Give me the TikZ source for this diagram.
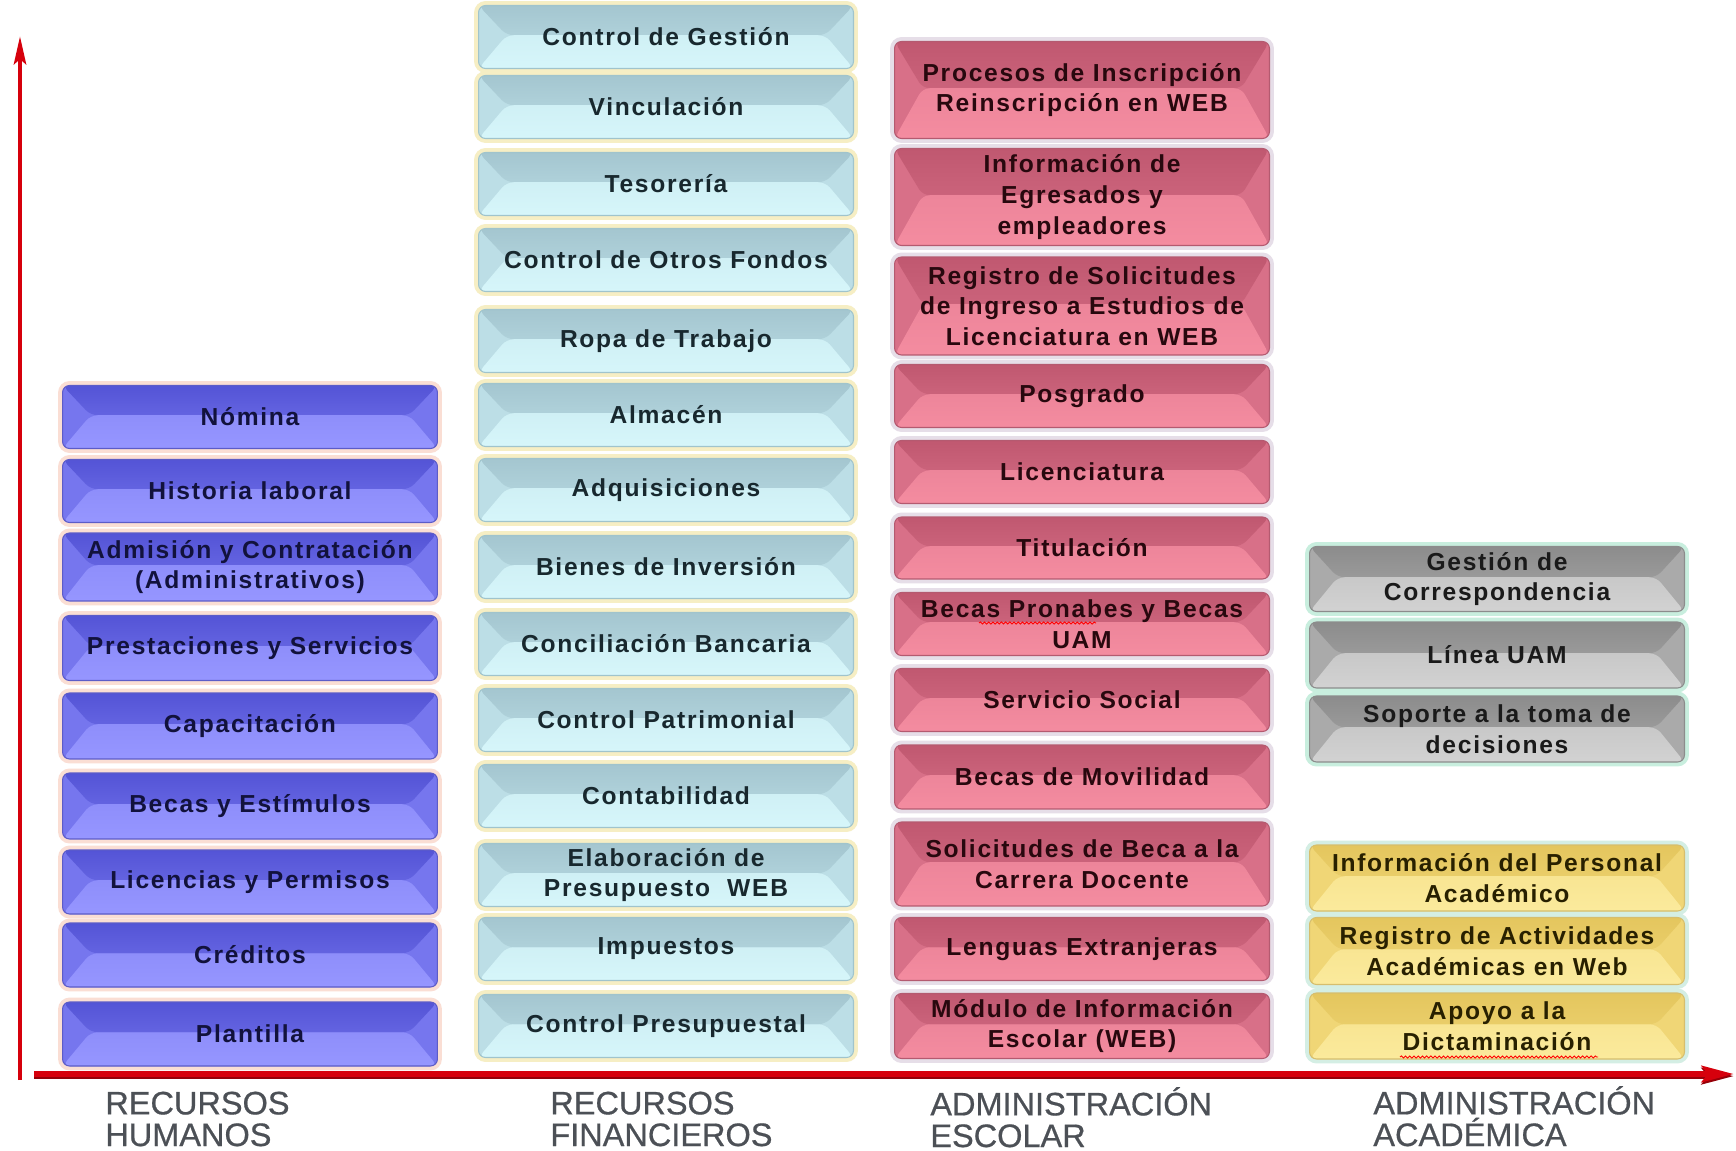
\documentclass[tikz,border=0pt]{standalone}
\usepackage{fontspec}
\setmainfont{Liberation Sans}
\newfontfamily\cajafont[LetterSpace=7]{Liberation Sans}
\newfontfamily\areafont[FakeBold=0.6]{Liberation Sans}
\usetikzlibrary{arrows.meta,decorations.pathmorphing}

\definecolor{rojo}{RGB}{214,0,12}
\definecolor{rojoosc}{RGB}{150,0,8}
\definecolor{gristxt}{RGB}{76,80,86}
\definecolor{rhglow}{RGB}{250,222,212}
\definecolor{rhedge}{RGB}{92,92,200}
\definecolor{rhtop}{RGB}{84,84,214}
\definecolor{rhside}{RGB}{118,118,238}
\definecolor{rhbot}{RGB}{150,150,255}
\definecolor{rhtext}{RGB}{18,18,60}
\definecolor{rfglow}{RGB}{246,238,196}
\definecolor{rfedge}{RGB}{160,196,204}
\definecolor{rftop}{RGB}{164,198,208}
\definecolor{rfside}{RGB}{188,222,230}
\definecolor{rfbot}{RGB}{214,246,250}
\definecolor{rftext}{RGB}{24,40,46}
\definecolor{aeglow}{RGB}{230,222,232}
\definecolor{aeedge}{RGB}{180,90,112}
\definecolor{aetop}{RGB}{192,88,112}
\definecolor{aeside}{RGB}{216,112,136}
\definecolor{aebot}{RGB}{244,140,160}
\definecolor{aetext}{RGB}{40,8,14}
\definecolor{grglow}{RGB}{200,238,222}
\definecolor{gredge}{RGB}{140,140,140}
\definecolor{grtop}{RGB}{140,140,140}
\definecolor{grside}{RGB}{170,170,170}
\definecolor{grbot}{RGB}{210,210,210}
\definecolor{grtext}{RGB}{26,26,26}
\definecolor{amglow}{RGB}{212,238,228}
\definecolor{amedge}{RGB}{214,190,110}
\definecolor{amtop}{RGB}{228,198,94}
\definecolor{amside}{RGB}{240,214,118}
\definecolor{ambot}{RGB}{251,234,156}
\definecolor{amtext}{RGB}{40,32,0}

\begin{document}
\begin{tikzpicture}[x=0.02cm,y=-0.02cm,
	boton/.style n args={6}{rounded corners=4pt, minimum width=7.5cm, minimum height=1.26cm, inner sep=0pt, align=center,
		font=\cajafont\bfseries\fontsize{14}{17.5}\selectfont, text=#6, fill=#4, draw=#2, line width=0.6pt,
		preaction={draw=#1, line width=5pt},
		path picture={
			\coordinate (pnw) at (path picture bounding box.north west);
			\coordinate (pse) at (path picture bounding box.south east);
			\coordinate (pw) at ([xshift=16pt,yshift=1pt]path picture bounding box.west);
			\coordinate (pe) at ([xshift=-16pt,yshift=1pt]path picture bounding box.east);
			\shade[top color=#3, bottom color=#3!55!#4] (pnw) -- (pnw-|pse) -- (pe) -- (pw) -- cycle;
			\shade[top color=#5!75!#4, bottom color=#5] (pnw|-pse) -- (pse) -- (pe) -- (pw) -- cycle;
		}},
	rh/.style={boton={rhglow}{rhedge}{rhtop}{rhside}{rhbot}{rhtext}},
	rf/.style={boton={rfglow}{rfedge}{rftop}{rfside}{rfbot}{rftext}},
	ae/.style={boton={aeglow}{aeedge}{aetop}{aeside}{aebot}{aetext}},
	gr/.style={boton={grglow}{gredge}{grtop}{grside}{grbot}{grtext}},
	am/.style={boton={amglow}{amedge}{amtop}{amside}{ambot}{amtext}},
	area/.style={anchor=base west, align=left, inner sep=0pt, text=gristxt, font=\areafont\fontsize{18.5}{18}\selectfont},
	ortografia/.style={red, line width=0.5pt, decorate, decoration={snake, amplitude=0.6pt, segment length=2.4pt}},
	eje/.style={rojo, line width=2.8pt}]
	\fill [white] (0,0) rectangle (1736,1151);
	\useasboundingbox (0,0) rectangle (1736,1151);
	\coordinate (origen) at (20,1080);
	\coordinate (ejey) at (20,36);
	\coordinate (inicio) at (34,1074);
	\coordinate (ejex) at (1734,1074);
	\draw [eje, -{Stealth[length=0.56cm, width=0.24cm, inset=0.1cm]}] (origen) -- (ejey);
	\draw [eje, line width=3.6pt, preaction={draw=rojoosc, line width=3.6pt, transform canvas={yshift=-1.2pt}}, -{Stealth[length=0.64cm, width=0.32cm, inset=0.12cm]}] (inicio) -- (ejex);
	\node [rh] (rh1) at (250,417) {Nómina};
	\node [rh] (rh2) at (250,491) {Historia laboral};
	\node [rh, minimum height=1.36cm] (rh3) at (250,567) {Admisión y Contratación\\(Administrativos)};
	\node [rh, minimum height=1.3cm] (rh4) at (250,648) {Prestaciones y Servicios};
	\node [rh, minimum height=1.32cm] (rh5) at (250,726) {Capacitación};
	\node [rh, minimum height=1.32cm] (rh6) at (250,806) {Becas y Estímulos};
	\node [rh, minimum height=1.28cm] (rh7) at (250,882) {Licencias y Permisos};
	\node [rh, minimum height=1.28cm] (rh8) at (250,955) {Créditos};
	\node [rh, minimum height=1.28cm] (rh9) at (250,1034) {Plantilla};
	\node [rf] (rf1) at (666,37) {Control de Gestión};
	\node [rf] (rf2) at (666,107) {Vinculación};
	\node [rf] (rf3) at (666,184) {Tesorería};
	\node [rf] (rf4) at (666,260) {Control de Otros Fondos};
	\node [rf] (rf5) at (666,341) {Ropa de Trabajo};
	\node [rf] (rf6) at (666,415) {Almacén};
	\node [rf] (rf7) at (666,490) {Adquisiciones};
	\node [rf] (rf8) at (666,567) {Bienes de Inversión};
	\node [rf] (rf9) at (666,644) {Conciliación Bancaria};
	\node [rf] (rf10) at (666,720) {Control Patrimonial};
	\node [rf] (rf11) at (666,796) {Contabilidad};
	\node [rf] (rf12) at (666,875) {Elaboración de\\Presupuesto~~WEB};
	\node [rf] (rf13) at (666,949) {Impuestos};
	\node [rf] (rf14) at (666,1026) {Control Presupuestal};
	\node [ae, minimum height=1.94cm] (ae1) at (1082,90) {Procesos de Inscripción\\Reinscripción en WEB};
	\node [ae, minimum height=1.94cm] (ae2) at (1082,197) {Información de\\Egresados y\\empleadores};
	\node [ae, minimum height=1.96cm] (ae3) at (1082,306) {Registro de Solicitudes\\de Ingreso a Estudios de\\Licenciatura en WEB};
	\node [ae] (ae4) at (1082,396) {Posgrado};
	\node [ae] (ae5) at (1082,472) {Licenciatura};
	\node [ae, minimum height=1.24cm] (ae6) at (1082,548) {Titulación};
	\node [ae] (ae7) at (1082,624) {Becas Pronabes y Becas\\UAM};
	\node [ae] (ae8) at (1082,700) {Servicio Social};
	\node [ae, minimum height=1.28cm] (ae9) at (1082,777) {Becas de Movilidad};
	\node [ae, minimum height=1.68cm] (ae10) at (1082,864) {Solicitudes de Beca a la\\Carrera Docente};
	\node [ae] (ae11) at (1082,949) {Lenguas Extranjeras};
	\node [ae, minimum height=1.3cm] (ae12) at (1082,1026) {Módulo de Información\\Escolar (WEB)};
	\node [gr, minimum height=1.3cm] (aa1) at (1497,579) {Gestión de\\Correspondencia};
	\node [gr, minimum height=1.32cm] (aa2) at (1497,655) {Línea UAM};
	\node [gr, minimum height=1.32cm] (aa3) at (1497,729) {Soporte a la toma de\\decisiones};
	\node [am, minimum height=1.32cm] (aa4) at (1497,878) {Información del Personal\\Académico};
	\node [am, minimum height=1.34cm] (aa5) at (1497,951) {Registro de Actividades\\Académicas en Web};
	\node [am, minimum height=1.32cm] (aa6) at (1497,1026) {Apoyo a la\\Dictaminación};
	\draw [ortografia] ([shift={(-103,-1)}]ae7.center) -- ([shift={(14,-1)}]ae7.center);
	\draw [ortografia] ([shift={(-97,31)}]aa6.center) -- ([shift={(101,31)}]aa6.center);
	\node [area] (lrh) at (105,1146) {RECURSOS\\HUMANOS};
	\node [area] (lrf) at (550,1146) {RECURSOS\\FINANCIEROS};
	\node [area] (lae) at (930,1147) {ADMINISTRACIÓN\\ESCOLAR};
	\node [area] (laa) at (1373,1146) {ADMINISTRACIÓN\\ACADÉMICA};
\end{tikzpicture}
\end{document}
